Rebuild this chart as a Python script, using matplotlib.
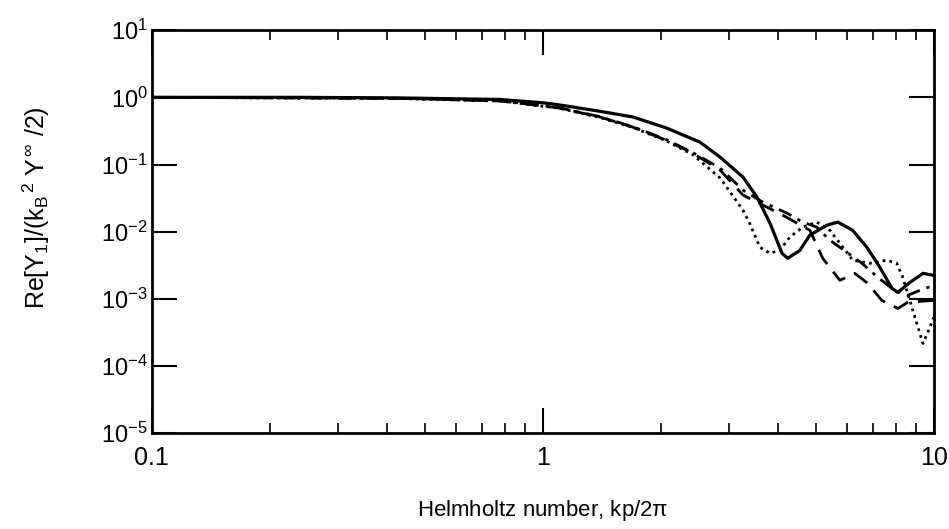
import matplotlib
matplotlib.use("Agg")
import matplotlib.pyplot as plt

plt.rcParams['font.family'] = ['Liberation Sans', 'DejaVu Sans']
plt.rcParams['mathtext.fontset'] = 'custom'
plt.rcParams['mathtext.rm'] = 'Liberation Sans'
plt.rcParams['mathtext.it'] = 'Liberation Sans'
plt.rcParams['mathtext.sf'] = 'Liberation Sans'
plt.rcParams['axes.unicode_minus'] = False

# values (x = Helmholtz number)
x_solid = [0.1, 0.239, 0.431, 0.776, 1.0, 1.105, 1.40, 1.70, 2.07, 2.52, 2.84, 3.25, 3.53, 3.81,
           4.09, 4.23, 4.54, 4.82, 5.33, 5.68, 6.2, 6.74, 7.28, 7.81, 8.09, 8.69, 9.38, 10]
y_solid = [1.0, 1.0, 0.98, 0.93, 0.83, 0.77, 0.62, 0.51, 0.35, 0.216, 0.129, 0.065, 0.0327, 0.0134,
           0.00478, 0.00402, 0.00525, 0.0089, 0.0125, 0.0139, 0.0105, 0.00587, 0.00295, 0.00144,
           0.00125, 0.00176, 0.0024, 0.00224]

x_dot = [0.1, 0.43, 0.78, 1.1, 1.4, 1.7, 2.07, 2.42, 2.84, 3.25, 3.38, 3.59, 3.81, 4.04, 4.28,
         4.62, 5.02, 5.42, 5.99, 6.2, 6.86, 7.58, 8.04, 8.33, 8.84, 9.38, 9.77, 10]
y_dot = [1.0, 0.96, 0.88, 0.69, 0.50, 0.355, 0.225, 0.14, 0.063, 0.0209, 0.0134, 0.00587, 0.00478,
         0.00529, 0.00827, 0.0117, 0.0139, 0.0105, 0.00494, 0.00376, 0.00339, 0.00376, 0.00339,
         0.00209, 0.00067, 0.000217, 0.000376, 0.00053]

x_dashdot = [0.1, 0.43, 0.78, 1.1, 1.4, 1.7, 2.07, 2.42, 2.84, 3.25, 3.65, 4.21, 4.62, 5.02,
             5.42, 5.99, 6.55, 7.19, 7.94, 8.58, 9.21, 10]
y_dashdot = [1.0, 0.966, 0.887, 0.70, 0.515, 0.365, 0.235, 0.15, 0.0887, 0.0416, 0.0276, 0.0189,
             0.0139, 0.0117, 0.00747, 0.00494, 0.00339, 0.00209, 0.00134, 0.00113, 0.00134, 0.00159]

x_dash = [0.1, 0.43, 0.78, 1.1, 1.4, 1.7, 2.07, 2.42, 2.84, 3.25, 4.11, 4.82, 5.20, 5.75, 6.28,
          6.78, 7.36, 8.09, 8.58, 10]
y_dash = [1.0, 0.966, 0.885, 0.695, 0.51, 0.36, 0.23, 0.147, 0.0828, 0.0351, 0.0176, 0.0105,
          0.00402, 0.00189, 0.0024, 0.0017, 0.00095, 0.00072, 0.00089, 0.00095]

fig = plt.figure(figsize=(9.49, 5.29), dpi=100)
ax = fig.add_axes([0.160, 0.181, 0.824, 0.762])

ax.plot(x_solid, y_solid, color='black', lw=2.3, ls='-')
ax.plot(x_dot, y_dot, color='black', lw=2.0, ls=(0, (1, 1.5)))
ax.plot(x_dashdot, y_dashdot, color='black', lw=2.0, ls=(0, (5, 2.5, 1.2, 2.5)))
ax.plot(x_dash, y_dash, color='black', lw=2.0, ls=(0, (6, 3.5)))

ax.set_xscale('log')
ax.set_yscale('log')
ax.set_xlim(0.1, 10)
ax.set_ylim(1e-5, 1e1)

ax.set_xticks([0.1, 1, 10], labels=['0.1', '1', '10'])
ax.yaxis.set_minor_locator(matplotlib.ticker.NullLocator())

for s in ax.spines.values():
    s.set_linewidth(2)
ax.tick_params(which='major', direction='in', length=18, width=1.5, top=True, right=True,
               labelsize=17)
ax.tick_params(axis='x', which='major', pad=9, labelsize=18)
ax.tick_params(axis='y', which='major', pad=3)
ax.tick_params(which='minor', direction='in', length=7, width=1.2, top=True, right=True)
for t in ax.get_yticklabels():
    t.set_va('center_baseline')

ax.set_xlabel('Helmholtz number, kp/2$\\pi$', fontsize=16, labelpad=20)
ax.set_ylabel('Re[Y$_1$]/(k$_B$$^{\\,2}$ Y$^{\\,\\infty}$ /2)', fontsize=18)
ax.yaxis.set_label_coords(-0.128, 0.56)

fig.savefig('out.png', dpi=100)
